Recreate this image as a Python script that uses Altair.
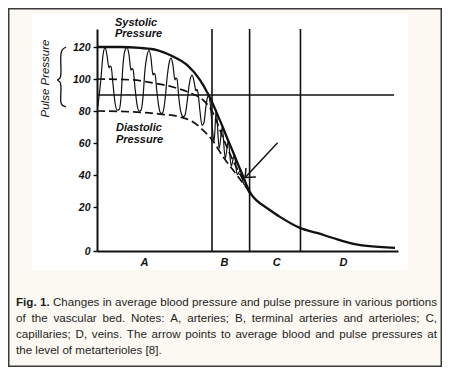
import altair as alt
import pandas as pd

# ---------------- data ----------------
# x: position along the vascular bed (arbitrary 0-100), y: pressure (mm Hg)
systolic_x = [0, 7.6, 14.3, 19.9, 24.9, 29.9, 34.2, 36.9, 38.5, 40.2, 41.9, 43.5, 45.2, 46.8,
              48.5, 49.8, 51.2, 53.2, 56.5, 60.8, 67.4, 73.1, 78.4, 84.1, 89.7, 99.0]
systolic_y = [120, 120, 119.4, 118.1, 114.4, 108.8, 99.4, 90.6, 84.4, 76.9, 69.4, 61.9, 54.4, 46.9,
              39.4, 33.1, 28.1, 23.8, 19.5, 15.5, 10.5, 8.2, 5.9, 3.6, 2.3, 1.4]

mean_x = [0, 12, 18.6, 25.2, 30.9, 35.2, 38.5, 41.9, 45.2, 48.5, 50.2, 51.2]
mean_y = [100, 99.4, 97.5, 95, 91.3, 86.9, 79, 63, 49, 37, 31, 28.1]

diastolic_x = [0, 12, 20.9, 27.6, 31.9, 35.2, 38.5, 41.9, 45.2, 48.2, 50.2, 51.2]
diastolic_y = [80, 79.4, 78.1, 76.3, 73.1, 68.1, 61.3, 51.3, 43.1, 35.6, 30.6, 28.1]

pulse_x = [0.3, 1.3, 2.0, 2.7, 3.3, 4.0, 4.3, 4.7, 5.3, 6.0, 6.7, 7.4, 8.0, 8.6, 9.3, 10.0,
           10.6, 11.3, 11.6, 12.0, 12.6, 13.3, 14.0, 14.6, 15.3, 15.9, 16.6, 17.3, 17.9, 18.6,
           18.9, 19.3, 19.9, 20.6, 21.3, 21.9, 22.6, 23.3, 23.9, 24.6, 25.2, 25.9, 26.2, 26.6,
           27.2, 27.9, 28.6, 29.2, 29.9, 30.6, 31.2, 31.6, 32.2, 32.9, 33.2, 33.6, 34.2, 34.9,
           35.5, 36.2, 36.8, 37.2, 37.6, 38.2, 38.9, 39.6, 40.6, 41.6, 42.6, 43.6, 44.6, 45.6,
           46.6, 47.6, 48.6, 49.5, 50.5, 51.2]
pulse_y = [83, 100, 115, 119.8, 115, 107, 108, 107.5, 97, 85, 80.5, 81, 89, 108, 118, 119.8,
           115.5, 105.5, 106.5, 105.8, 95, 84, 80, 80.5, 89, 105, 114.5, 117.8, 113.5, 102.5,
           103.5, 102.8, 92, 82, 78.5, 79.2, 87, 101, 109.5, 113, 109, 99.5, 100.5, 99.8,
           88, 79, 76.5, 77.3, 85, 96, 101.5, 102.5, 99, 92.5, 93.5, 91, 80, 71,
           72.5, 83, 89, 89.5, 85, 72, 61, 80.5, 56.5, 70, 50.3, 61, 45.5, 52.5,
           40.2, 43, 35.2, 33, 29, 28.1]

region_bounds = [38.2, 50.7, 67.6]
region_labels = ["A", "B", "C", "D"]
region_label_x = [15.6, 42.2, 59.5, 81.7]
ref_level = [90]
ref_level_end = [98.7]

arrow_x = [60.0, 49.2, 49.2]
arrow_y = [60.2, 38.4, 38.4]
arrow_x2 = [49.2, 49.5, 52.8]
arrow_y2 = [38.4, 44.4, 38.75]

brace_x = [-10.3, -11.6, -12.0, -12.0, -12.3, -13.1, -12.3, -12.0, -12.0, -11.6, -10.3]
brace_y = [120, 118.1, 115, 103.1, 100.6, 99.4, 98.1, 95.6, 85.6, 83.75, 82.5]

y_ticks = [0, 20, 40, 60, 80, 100, 120]

caption_lines = [
    "Fig. 1. Changes in average blood pressure and pulse pressure in various portions",
    "of the vascular bed. Notes: A, arteries; B, terminal arteries and arterioles; C,",
    "capillaries; D, veins. The arrow points to average blood and pulse pressures at",
    "the level of metarterioles [8].",
]
caption_bold_words = 2  # "Fig. 1."

# ---------------- layout helpers ----------------
W, H = 301, 222
CAP_FS = 11.6
REG = {}
for chars, w in [("ijl", 222), ("ft .,:;[]I!/", 278), ("r()-", 333), ("cksvxyzJ", 500),
                 ("abdeghnopqu0123456789L", 556), ("FTZ", 611), ("ABEKPSVXY", 667),
                 ("CDHNRUw", 722), ("GOQ", 778), ("mM", 833), ("W", 944)]:
    for c in chars:
        REG[c] = w
BOLD = {"F": 611, "i": 278, "g": 611, ".": 278, "1": 556, " ": 278}


def tw(s, table):
    return sum(table.get(c, 556) for c in s) / 1000 * CAP_FS


cap_left, cap_right = 16 - 97, 437 - 97
rows = []
for li, line in enumerate(caption_lines):
    words = line.split(" ")
    bold = [li == 0 and k < caption_bold_words for k in range(len(words))]
    widths = [tw(w_, BOLD if b else REG) for w_, b in zip(words, bold)]
    if li < len(caption_lines) - 1:
        gap = (cap_right - cap_left - sum(widths)) / (len(words) - 1)
    else:
        gap = REG[" "] / 1000 * CAP_FS
    xpos = cap_left
    for w_, b, wd in zip(words, bold, widths):
        rows.append({"word": w_, "bold": b, "px": xpos, "py": 305.5 - 29 + 16.1 * li})
        xpos += wd + gap
cap_df = pd.DataFrame(rows)

xs = alt.Scale(domain=[0, 100], nice=False, zero=False)
ys = alt.Scale(domain=[0, 20, 131.25], range=[H, H - 44, 0], nice=False, zero=False)

AX_FONT = "Liberation Sans Narrow, Liberation Sans, Arial"
x_axis = alt.Axis(values=region_label_x, title=None, ticks=False, grid=False,
                  labelExpr=" : ".join(f"datum.value < {region_label_x[i] + 0.5} ? '{region_labels[i]}'"
                                       for i in range(3)) + f" : '{region_labels[3]}'",
                  labelFont="Liberation Sans, Arial", labelFontSize=11, labelFontWeight="bold",
                  labelFontStyle="italic", labelColor="#111", labelPadding=5,
                  domainColor="#111", domainWidth=2, labelFlush=False, labelOverlap=False, zindex=1)
y_axis = alt.Axis(values=y_ticks, title=None, grid=False, tickSize=4, tickWidth=1.5,
                  tickColor="#111", labelFont=AX_FONT, labelFontSize=10.5, labelFontWeight="bold",
                  labelFontStyle="italic", labelColor="#111", labelPadding=3,
                  domainColor="#111", domainWidth=2, labelOverlap=False, zindex=1)


def X(f):
    return alt.X(f, type="quantitative", scale=xs, axis=x_axis)


def Y(f):
    return alt.Y(f, type="quantitative", scale=ys, axis=y_axis)


one = pd.DataFrame({"a": [0]})
INK = "#111111"

panel = alt.Chart(one).mark_rect(fill="white").encode(
    x=alt.value(-65), x2=alt.value(311), y=alt.value(-16), y2=alt.value(241))
border = alt.Chart(one).mark_rect(fillOpacity=0, stroke="#3a3a3a", strokeWidth=1.5).encode(
    x=alt.value(-88.25), x2=alt.value(344.25), y=alt.value(-20.25), y2=alt.value(337.25))

vrules = alt.Chart(pd.DataFrame({"b": region_bounds})).mark_rule(
    color=INK, strokeWidth=1.6).encode(x=X("b"), y=alt.value(0), y2=alt.value(H))
hrule = alt.Chart(pd.DataFrame({"y": ref_level, "x0": [0], "x1": ref_level_end})).mark_rule(
    color=INK, strokeWidth=1.6).encode(y=Y("y"), x=X("x0"), x2="x1")

pulse = alt.Chart(pd.DataFrame({"x": pulse_x, "y": pulse_y})).mark_line(
    color=INK, strokeWidth=1.2, interpolate="monotone").encode(x=X("x"), y=Y("y"))
mean = alt.Chart(pd.DataFrame({"x": mean_x, "y": mean_y})).mark_line(
    color=INK, strokeWidth=1.7, strokeDash=[8, 4], interpolate="monotone").encode(x=X("x"), y=Y("y"))
dia = alt.Chart(pd.DataFrame({"x": diastolic_x, "y": diastolic_y})).mark_line(
    color=INK, strokeWidth=1.7, strokeDash=[8, 4], interpolate="monotone").encode(x=X("x"), y=Y("y"))
sysl = alt.Chart(pd.DataFrame({"x": systolic_x, "y": systolic_y})).mark_line(
    color=INK, strokeWidth=2.3, interpolate="monotone").encode(x=X("x"), y=Y("y"))

arrow = alt.Chart(pd.DataFrame({"x": arrow_x, "y": arrow_y, "x2": arrow_x2, "y2": arrow_y2})).mark_rule(
    color=INK, strokeWidth=1.5).encode(x=X("x"), y=Y("y"), x2="x2", y2="y2")

brace = alt.Chart(pd.DataFrame({"x": brace_x, "y": brace_y, "i": list(range(len(brace_x)))})).mark_line(
    color=INK, strokeWidth=1.3, interpolate="catmull-rom", clip=False).encode(
    x=X("x"), y=Y("y"), order="i:Q")

LBL_FONT = "Liberation Sans, Arial"
sys_lbl = alt.Chart(one).mark_text(align="left", baseline="alphabetic", font=LBL_FONT, fontSize=11,
                                   fontWeight="bold", fontStyle="italic", color=INK, lineHeight=11.5).encode(
    x=alt.value(18), y=alt.value(-3.5), text=alt.value(["Systolic", "Pressure"]))
dia_lbl = alt.Chart(one).mark_text(align="left", baseline="alphabetic", font=LBL_FONT, fontSize=11,
                                   fontWeight="bold", fontStyle="italic", color=INK, lineHeight=12.5).encode(
    x=alt.value(19), y=alt.value(101.5), text=alt.value(["Diastolic", "Pressure"]))
pp_lbl = alt.Chart(one).mark_text(align="center", baseline="middle", font=LBL_FONT, fontSize=11.5,
                                  fontStyle="italic", color=INK, angle=270).encode(
    x=alt.value(-51), y=alt.value(49.5), text=alt.value("Pulse Pressure"))

cap_reg = alt.Chart(cap_df[~cap_df["bold"]]).mark_text(
    align="left", baseline="alphabetic", font="Liberation Sans, Arial", fontSize=CAP_FS, color="#1e1e1e").encode(
    x=alt.X("px:Q", scale=None), y=alt.Y("py:Q", scale=None), text="word:N")
cap_bold = alt.Chart(cap_df[cap_df["bold"]]).mark_text(
    align="left", baseline="alphabetic", font="Liberation Sans, Arial", fontSize=CAP_FS,
    fontWeight="bold", color="#1e1e1e").encode(
    x=alt.X("px:Q", scale=None), y=alt.Y("py:Q", scale=None), text="word:N")

chart = alt.layer(
    panel, border, vrules, hrule, pulse, mean, dia, sysl, arrow, brace,
    sys_lbl, dia_lbl, pp_lbl, cap_reg, cap_bold
).properties(
    width=W, height=H,
    autosize=alt.AutoSizeParams(type="none"),
    padding={"left": 89, "top": 21, "right": 44, "bottom": 116},
    background="#fbf9f2",
).configure_view(stroke="transparent")

chart.save("out.html", embed_options={"renderer": "svg", "actions": False})
